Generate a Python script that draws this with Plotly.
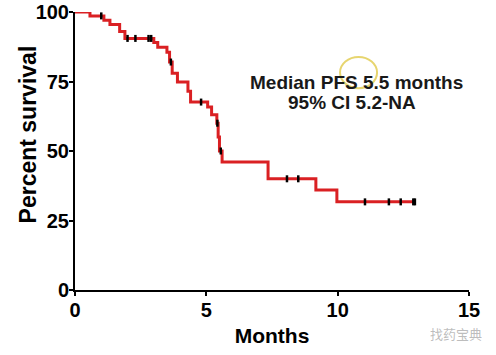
import numpy as np
import plotly.graph_objects as go

# Kaplan-Meier step data (months, percent survival after the step)
event_times = [0, 0.57, 1.1, 1.33, 1.7, 1.9, 3.0, 3.15, 3.5, 3.6, 3.7, 3.9, 4.3, 4.4,
               5.05, 5.2, 5.4, 5.45, 5.5, 5.6, 7.35, 9.17, 9.97, 12.94]
survival = [100, 98.6, 97.0, 95.5, 93.0, 90.5, 89.0, 87.3, 85.5, 82.0, 78.0, 74.8, 71.5, 67.6,
            65.8, 63.0, 60.0, 55.0, 50.0, 46.0, 40.0, 36.0, 31.7, 31.7]
censor_times = [1.0, 2.0, 2.3, 2.8, 2.9, 3.65, 4.8, 5.42, 5.55, 8.07, 8.5,
                11.04, 11.95, 12.4, 12.88, 12.94]

x_ticks = [0, 5, 10, 15]
y_ticks = [0, 25, 50, 75, 100]

idx = np.searchsorted(np.array(event_times), np.array(censor_times), side="right") - 1
censor_vals = [survival[i] for i in idx]

FONT = "Liberation Sans, Arial, sans-serif"

fig = go.Figure()
fig.add_trace(go.Scatter(x=event_times, y=survival, mode="lines",
                         line=dict(color="rgb(218,32,35)", width=3, shape="hv"),
                         hoverinfo="skip", cliponaxis=False))
fig.add_trace(go.Scatter(x=censor_times, y=censor_vals, mode="markers",
                         marker=dict(symbol="line-ns", size=5,
                                     line=dict(color="black", width=2.5)),
                         cliponaxis=False))

fig.add_annotation(x=10.73, y=74.8, xref="x", yref="y", showarrow=False,
                   text="<b>Median PFS 5.5 months</b>",
                   font=dict(family=FONT, size=19, color="rgb(25,25,25)"))
fig.add_annotation(x=10.55, y=67.4, xref="x", yref="y", showarrow=False,
                   text="<b>95% CI 5.2-NA</b>",
                   font=dict(family=FONT, size=19, color="rgb(25,25,25)"))
fig.add_shape(type="circle", xref="x", yref="y",
              x0=10.09, x1=11.5, y0=72.6, y1=83.8,
              line=dict(color="rgba(228,208,95,0.9)", width=2))

# y-axis title placed as annotation (sits above the axis centre in the reference)
fig.add_annotation(x=-0.119, y=0.56, xref="paper", yref="paper", showarrow=False,
                   textangle=-90, xanchor="center", yanchor="middle",
                   text="<b>Percent survival</b>",
                   font=dict(family=FONT, size=23, color="black"))

fig.add_annotation(x=0.967, y=-0.158, xref="paper", yref="paper", showarrow=False,
                   xanchor="center", yanchor="middle",
                   text="找药宝典",
                   font=dict(family="Noto Sans CJK SC", size=13, color="rgba(160,160,160,0.7)"))

fig.update_layout(
    width=496, height=355,
    margin=dict(l=75, r=27, t=12, b=65),
    plot_bgcolor="white", paper_bgcolor="white",
    showlegend=False,
    font=dict(family=FONT, color="black"),
)
fig.update_xaxes(range=[0, 15], tickvals=x_ticks, ticktext=[f"<b>{v}</b>" for v in x_ticks],
                 showline=True, linecolor="black", linewidth=2, showgrid=False, zeroline=False,
                 ticks="outside", ticklen=4, tickwidth=2, tickcolor="black", automargin=False,
                 ticklabelstandoff=-3,
                 tickfont=dict(size=20, family=FONT),
                 title=dict(text="<b>Months</b>", font=dict(size=21, family=FONT), standoff=8))
fig.update_yaxes(range=[0, 100], tickvals=y_ticks, ticktext=[f"<b>{v}</b>" for v in y_ticks],
                 showline=True, linecolor="black", linewidth=2, showgrid=False, zeroline=False,
                 ticks="outside", ticklen=4, tickwidth=2, tickcolor="black", automargin=False,
                 ticklabelstandoff=-4,
                 tickfont=dict(size=20, family=FONT))

fig.write_html("out.html", config={"displayModeBar": False},
               post_script="document.body.style.margin='0';")
